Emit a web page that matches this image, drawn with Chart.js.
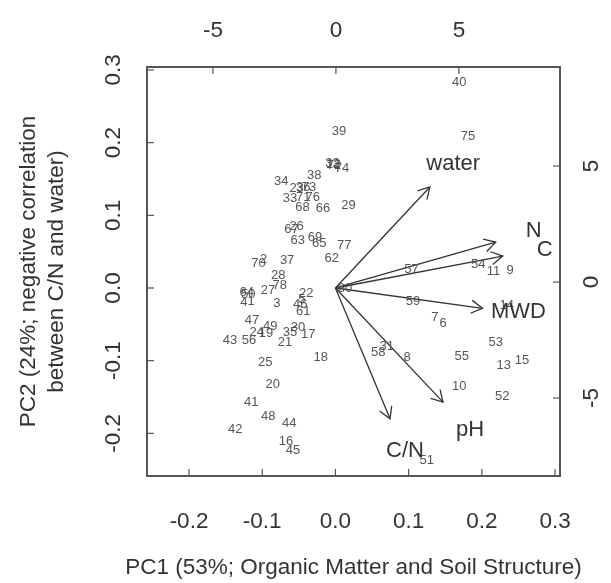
<!DOCTYPE html>
<html>
<head>
<meta charset="utf-8">
<script src="https://cdn.jsdelivr.net/npm/chart.js@4.4.1/dist/chart.umd.min.js"></script>
<style>
  html, body { margin: 0; padding: 0; background: #fff; }
  #wrap { width: 611px; height: 583px; }
</style>
</head>
<body>
<div id="wrap"><canvas id="biplot"></canvas></div>
<script>
// PCA biplot - observation scores (bottom/left axes) + variable arrows

// observation numbers and their scores
const obsIds = ["39","32","72","12","74","38","34","23","36","73","33","71","76","68","66","29","26","67",
  "63","69","65","77","62","70","2","37","28","78","27","64","50","4","1","3","22","46","5","61",
  "47","49","43","56","24","19","21","30","35","17","25","18","20","41","48","44","42","16","45",
  "40","75","57","54","11","9","60","59","14","7","6","53","58","31","8","55","13","15","10","52","51"];
const obsPC1 = [0.005,-0.004,-0.002,-0.003,0.009,-0.029,-0.074,-0.053,-0.044,-0.036,-0.062,-0.044,-0.031,-0.045,-0.017,0.018,-0.053,-0.060,
  -0.0515,-0.028,-0.022,0.012,-0.005,-0.105,-0.098,-0.066,-0.078,-0.076,-0.092,-0.121,-0.119,-0.125,-0.115,-0.080,-0.040,-0.048,-0.046,-0.044,
  -0.114,-0.089,-0.144,-0.118,-0.1075,-0.095,-0.069,-0.051,-0.062,-0.037,-0.096,-0.020,-0.0857,-0.115,-0.0917,-0.063,-0.137,-0.0675,-0.058,
  0.169,0.181,0.104,0.195,0.216,0.2385,0.013,0.106,0.234,0.136,0.147,0.219,0.0586,0.070,0.098,0.1725,0.230,0.255,0.169,0.228,0.1247];
const obsPC2 = [0.216,0.171,0.169,0.170,0.164,0.155,0.146,0.137,0.138,0.138,0.123,0.124,0.124,0.111,0.109,0.113,0.085,0.080,
  0.065,0.070,0.061,0.058,0.041,0.0335,0.040,0.038,0.0175,0.004,-0.003,-0.006,-0.009,-0.020,-0.019,-0.0215,-0.007,-0.022,-0.016,-0.032,
  -0.045,-0.053,-0.072,-0.072,-0.061,-0.063,-0.075,-0.0545,-0.0605,-0.064,-0.102,-0.095,-0.1325,-0.157,-0.1774,-0.1857,-0.194,-0.2105,-0.223,
  0.283,0.209,0.025,0.0326,0.0234,0.0243,-0.001,-0.019,-0.024,-0.041,-0.049,-0.075,-0.0889,-0.080,-0.0958,-0.0935,-0.106,-0.100,-0.135,-0.149,-0.237];

// variable arrows (tips) and label positions
const varNames = ["water","N","C","MWD","pH","C/N"];
const varTipX = [0.129, 0.219, 0.2285, 0.201, 0.147, 0.0746];
const varTipY = [0.139, 0.063, 0.044, -0.028, -0.157, -0.180];
const varLabX = [0.161, 0.271, 0.286, 0.250, 0.184, 0.095];
const varLabY = [0.171, 0.079, 0.052, -0.033, -0.196, -0.224];

// tick labels
const bottomTicks = [-0.2, -0.1, 0.0, 0.1, 0.2, 0.3];
const leftTicks = [-0.2, -0.1, 0.0, 0.1, 0.2, 0.3];
const topTicks = [-5, 0, 5];
const rightTicks = [-5, 0, 5];

const xTitle = "PC1 (53%; Organic Matter and Soil Structure)";
const yTitle = ["PC2 (24%; negative correlation", "between C/N and water)"];

const FONT = "'Liberation Sans', Arial, sans-serif";
const INK = "#333";

const biplotDecor = {
  id: "biplotDecor",
  afterDatasetsDraw(chart) {
    const { ctx, chartArea: a, scales } = chart;
    ctx.save();

    // arrowheads
    ctx.strokeStyle = INK;
    ctx.lineWidth = 1.3;
    varNames.forEach((n, i) => {
      const pts = chart.getDatasetMeta(i + 1).data;
      const x0 = pts[0].x, y0 = pts[0].y, x1 = pts[1].x, y1 = pts[1].y;
      const ang = Math.atan2(y1 - y0, x1 - x0);
      const len = 13, spread = Math.PI / 6;
      ctx.beginPath();
      ctx.moveTo(x1 - len * Math.cos(ang - spread), y1 - len * Math.sin(ang - spread));
      ctx.lineTo(x1, y1);
      ctx.lineTo(x1 - len * Math.cos(ang + spread), y1 - len * Math.sin(ang + spread));
      ctx.stroke();
    });

    // observation numbers
    ctx.fillStyle = "#555";
    ctx.font = "13px " + FONT;
    ctx.textAlign = "center";
    ctx.textBaseline = "middle";
    chart.getDatasetMeta(0).data.forEach((p, i) => ctx.fillText(obsIds[i], p.x, p.y));

    // variable names
    ctx.fillStyle = INK;
    ctx.font = "22px " + FONT;
    varNames.forEach((n, i) => {
      ctx.fillText(n, scales.x.getPixelForValue(varLabX[i]), scales.y.getPixelForValue(varLabY[i]));
    });

    // frame
    ctx.strokeStyle = "#555";
    ctx.lineWidth = 2;
    ctx.strokeRect(a.left, a.top, a.right - a.left, a.bottom - a.top);

    // ticks (inward) + labels
    ctx.lineWidth = 1.2;
    ctx.fillStyle = INK;
    ctx.font = "22.5px " + FONT;
    const tk = 7;
    bottomTicks.forEach(v => {
      const px = scales.x.getPixelForValue(v);
      ctx.beginPath(); ctx.moveTo(px, a.bottom); ctx.lineTo(px, a.bottom - tk); ctx.stroke();
      ctx.fillText(v.toFixed(1), px, 522);
    });
    topTicks.forEach(v => {
      const px = scales.x2.getPixelForValue(v);
      ctx.beginPath(); ctx.moveTo(px, a.top); ctx.lineTo(px, a.top + tk); ctx.stroke();
      ctx.fillText(String(v), px, 31);
    });
    leftTicks.forEach(v => {
      const py = scales.y.getPixelForValue(v);
      ctx.beginPath(); ctx.moveTo(a.left, py); ctx.lineTo(a.left + tk, py); ctx.stroke();
      ctx.save(); ctx.translate(114, py); ctx.rotate(-Math.PI / 2);
      ctx.fillText(v.toFixed(1), 0, 0); ctx.restore();
    });
    rightTicks.forEach(v => {
      const py = scales.y2.getPixelForValue(v);
      ctx.beginPath(); ctx.moveTo(a.right, py); ctx.lineTo(a.right - tk, py); ctx.stroke();
      ctx.save(); ctx.translate(592, py); ctx.rotate(-Math.PI / 2);
      ctx.fillText(String(v), 0, 0); ctx.restore();
    });

    // axis titles
    const cx = (a.left + a.right) / 2, cy = (a.top + a.bottom) / 2;
    ctx.fillText(xTitle, cx, 568);
    ctx.save(); ctx.translate(29, cy); ctx.rotate(-Math.PI / 2);
    ctx.fillText(yTitle[0], 0, 0);
    ctx.fillText(yTitle[1], 0, 28);
    ctx.restore();

    ctx.restore();
  }
};

const datasets = [{
  type: "scatter",
  data: obsPC1.map((x, i) => ({ x, y: obsPC2[i] })),
  pointRadius: 0,
  xAxisID: "x", yAxisID: "y"
}].concat(varNames.map((n, i) => ({
  type: "line",
  label: n,
  data: [{ x: 0, y: 0 }, { x: varTipX[i], y: varTipY[i] }],
  borderColor: INK,
  borderWidth: 1.3,
  pointRadius: 0,
  fill: false,
  xAxisID: "x", yAxisID: "y"
})));

new Chart(document.getElementById("biplot"), {
  data: { datasets },
  options: {
    responsive: true,
    maintainAspectRatio: false,
    animation: false,
    events: [],
    layout: { padding: { left: 147, right: 51, top: 67, bottom: 107 } },
    plugins: { legend: { display: false }, tooltip: { enabled: false } },
    scales: {
      x: { type: "linear", min: -0.2574, max: 0.3068, display: false },
      y: { type: "linear", min: -0.2587, max: 0.3041, display: false },
      x2: { type: "linear", position: "top", min: -7.68, max: 9.11, display: false },
      y2: { type: "linear", position: "right", min: -8.36, max: 9.27, display: false }
    }
  },
  plugins: [biplotDecor]
});
</script>
</body>
</html>
